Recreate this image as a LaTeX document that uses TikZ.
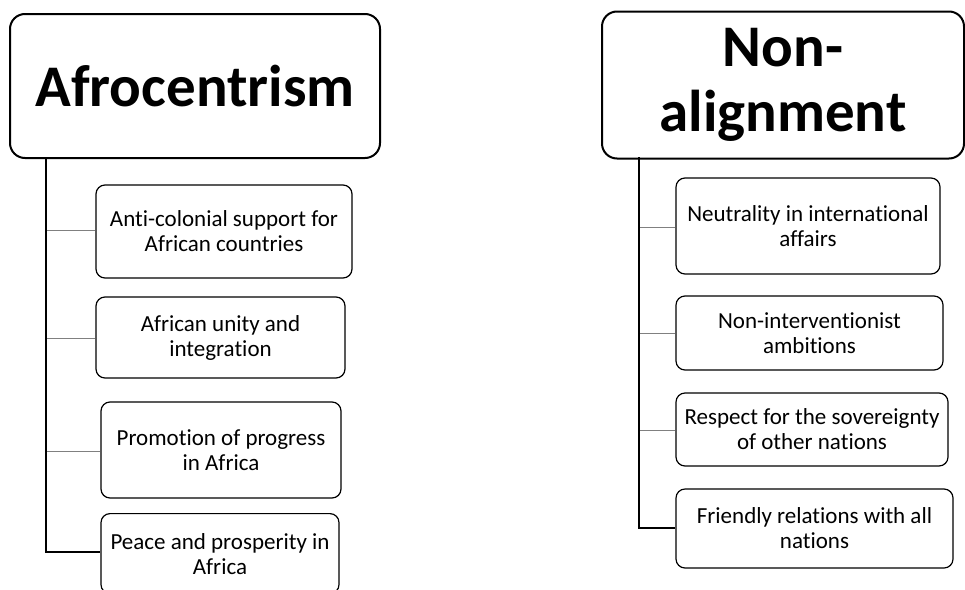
\documentclass[tikz,border=0pt]{standalone}
\usepackage{fontspec}
\setmainfont{Carlito}[Ligatures={NoCommon}]
\begin{document}
\begin{tikzpicture}[x=1pt,y=-1pt,
  titlebox/.style={draw=black, line width=2pt, rounded corners=15pt, align=center,
    inner sep=0pt, font=\fontsize{59}{65}\selectfont\bfseries},
  itembox/.style={draw=black, line width=1.2pt, rounded corners=9pt, align=center,
    inner sep=0pt, font=\fontsize{23}{25}\selectfont},
  trunk/.style={draw=black, line width=1.5pt},
  branch/.style={draw=black!50, line width=1pt}]
\clip (0,0) rectangle (965,589);
\useasboundingbox (0,0) rectangle (965,589);

% ---- Afrocentrism ----
\node[titlebox, minimum width=370pt, minimum height=144pt] (afro) at (195,86) {Afrocentrism};
\node[itembox, minimum width=256pt, minimum height=93pt] (a1) at (224,231.5) {Anti-colonial support for\\African countries};
\node[itembox, minimum width=249pt, minimum height=81pt] (a2) at (220.5,337.5) {African unity and\\integration};
\node[itembox, minimum width=240pt, minimum height=96pt] (a3) at (221,450) {Promotion of progress\\in Africa};
\node[itembox, minimum width=238pt, minimum height=80pt, anchor=north] (a4) at (220,513) {Peace and prosperity in\\Africa};

\coordinate (at) at (46,158);
\coordinate (ab1) at (46,230);
\coordinate (ab2) at (46,338);
\coordinate (ab3) at (46,451);
\coordinate (ab4) at (46,552);
\draw[branch] (ab1) -- (ab1 -| a1.west);
\draw[branch] (ab2) -- (ab2 -| a2.west);
\draw[branch] (ab3) -- (ab3 -| a3.west);
\draw[trunk] (at) -- (ab4) -- (ab4 -| a4.west);

% ---- Non-alignment ----
\node[titlebox, minimum width=362pt, minimum height=147pt] (nonal) at (783,85) {Non-\\alignment};
\node[itembox, minimum width=264pt, minimum height=96pt] (n1) at (808,226) {Neutrality in international\\affairs};
\node[itembox, minimum width=267pt, minimum height=74pt] (n2) at (809.5,333) {Non-interventionist\\ambitions};
\node[itembox, minimum width=272pt, minimum height=73pt] (n3) at (812,429.5) {Respect for the sovereignty\\of other nations};
\node[itembox, minimum width=277pt, minimum height=79pt] (n4) at (814.5,528.5) {Friendly relations with all\\nations};

\coordinate (nt) at (639,157);
\coordinate (nb1) at (639,227);
\coordinate (nb2) at (639,333);
\coordinate (nb3) at (639,430);
\coordinate (nb4) at (639,528);
\draw[branch] (nb1) -- (nb1 -| n1.west);
\draw[branch] (nb2) -- (nb2 -| n2.west);
\draw[branch] (nb3) -- (nb3 -| n3.west);
\draw[trunk] (nt) -- (nb4) -- (nb4 -| n4.west);
\end{tikzpicture}
\end{document}
